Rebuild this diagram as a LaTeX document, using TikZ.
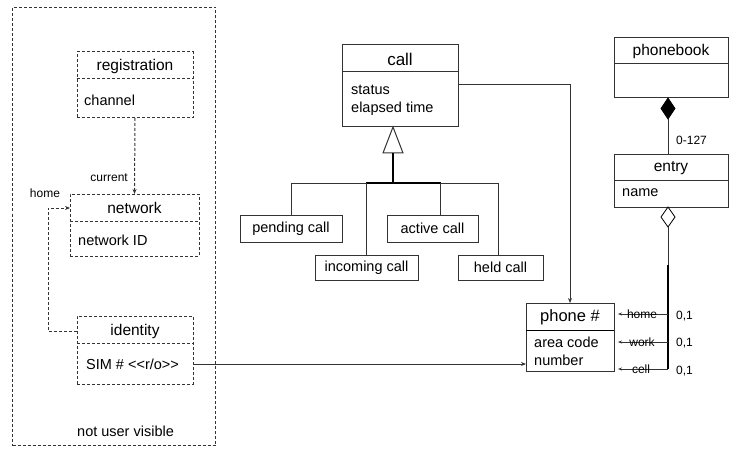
\documentclass[tikz,border=0pt]{standalone}
\usepackage{fontspec}
\setmainfont{Liberation Sans}
\usetikzlibrary{arrows.meta}
\tikzset{
  ln/.style={draw=black!80, line width=1pt},
  dsh/.style={dash pattern=on 3pt off 2pt},
  cbox/.style={ln, rectangle, inner sep=0pt, outer sep=0pt, anchor=north west},
  dbox/.style={cbox, dsh},
  ttl/.style={inner sep=0pt, font=\fontsize{15.5}{18}\selectfont},
  att/.style={inner sep=0pt, anchor=west, align=left, font=\fontsize{14.5}{18}\selectfont},
  sml/.style={inner sep=0pt, font=\fontsize{12}{14}\selectfont},
  arr/.style={ln, -{Stealth[length=5pt,width=4pt]}},
  tarr/.style={ln, -{Stealth[length=4pt,width=3pt]}},
}
\begin{document}
\begin{tikzpicture}[x=1pt,y=-1pt]
\useasboundingbox (0,0) rectangle (735,449);
% outer frame
\node[dbox, minimum width=203pt, minimum height=438pt] (frame) at (12.5,7.5) {};
\node[att] (nuv) at (77,431) {not user visible};
% registration
\node[dbox, minimum width=116pt, minimum height=66pt] (reg) at (77,52) {};
\draw[ln,dsh] (77,79) -- (193,79);
\node[ttl] (regt) at (135,66) {registration};
\node[att] (regc) at (84,100) {channel};
% network
\node[dbox, minimum width=129pt, minimum height=62pt] (net) at (70,194) {};
\draw[ln,dsh] (70,221) -- (199,221);
\node[ttl] (nett) at (134.5,208) {network};
\node[att] (netid) at (78,240) {network ID};
% identity
\node[dbox, minimum width=116pt, minimum height=68pt] (idn) at (77,316) {};
\draw[ln,dsh] (77,343) -- (193,343);
\node[ttl] (idnt) at (135,331) {identity};
\node[att] (sim) at (86,364) {SIM \# <{}<r/o>{}>};
% dashed connectors
\draw[arr,dsh] (reg.south) -- (net.north);
\node[sml, anchor=east] (cur) at (128,178) {current};
\coordinate (hc) at (48,331);
\draw[arr,dsh] (idn.west |- hc) -| (48,208) -- (net.west |- 0,208);
\node[sml] (home1) at (45,193) {home};
% call
\node[cbox, minimum width=116pt, minimum height=82pt] (call) at (342,45) {};
\draw[ln] (342,72) -- (458,72);
\node[inner sep=0pt, font=\fontsize{17}{20}\selectfont] (callt) at (400,59) {call};
\node[att] (callst) at (351,100) {status\\elapsed time};
% subclasses
\node[cbox, minimum width=102pt, minimum height=27pt] (pend) at (240,215) {};
\node[att, anchor=center] at (pend.center) {pending call};
\node[cbox, minimum width=91pt, minimum height=27pt] (act) at (387,215) {};
\node[att, anchor=center] at (act.center) {active call};
\node[cbox, minimum width=103pt, minimum height=25pt] (inc) at (315,255) {};
\node[att, anchor=center] at (inc.center) {incoming call};
\node[cbox, minimum width=85pt, minimum height=25pt] (held) at (458,255) {};
\node[att, anchor=center] at (held.center) {held call};
% generalization
\coordinate (tb) at (393,153);
\coordinate (bar) at (393,183);
\draw[ln, fill=white] (call.south -| 393,0) -- (403,153) -- (383,153) -- cycle;
\draw[draw=black, line width=1.6pt] (tb) -- (bar);
\draw[ln] (291,183) -- (498,183);
\draw[draw=black, line width=1.3pt] (366,183) -- (441,183);
\draw[ln] (pend.north -| 291,0) -- (291,183);
\draw[ln] (inc.north -| 366,0) -- (366,183);
\draw[ln] (act.north -| 440,0) -- (440,183);
\draw[ln] (held.north -| 498,0) -- (498,183);
% phone
\node[cbox, minimum width=88pt, minimum height=68pt] (ph) at (526,303) {};
\draw[draw=black, line width=1pt] (526,330) -- (614,330);
\node[inner sep=0pt, font=\fontsize{16.5}{19}\selectfont] (pht) at (570,317) {phone \#};
\node[att] (phc) at (534,351) {area code\\number};
\draw[arr] (call.east |- 0,85) -| (ph.north -| 570,0);
\coordinate (simr) at (193,364);
\draw[arr] (simr) -- (ph.west |- simr);
% phonebook
\node[cbox, minimum width=114pt, minimum height=60pt] (pb) at (614,38) {};
\draw[ln] (614,64) -- (728,64);
\node[ttl] (pbt) at (671,51) {phonebook};
\node[cbox, minimum width=114pt, minimum height=52pt] (ent) at (614,155) {};
\draw[ln] (614,180) -- (728,180);
\node[ttl] (entt) at (671,168) {entry};
\node[att] (entn) at (622,193) {name};
% composition
\draw[draw=black, fill=black, line width=0.8pt] (668,98) -- (675,108.5) -- (668,119) -- (661,108.5) -- cycle;
\draw[ln] (668,119) -- (ent.north -| 668,0);
\node[sml, anchor=west] (n127) at (676,140) {0-127};
% aggregation
\draw[draw=black, fill=white, line width=0.8pt] (668,207) -- (675,217) -- (668,227) -- (661,217) -- cycle;
\coordinate (agg) at (668,227);
\draw[ln] (agg) -- (668,369);
\draw[draw=black, line width=1.3pt] (668,265) -- (668,369);
\coordinate (ah) at (618,314);
\coordinate (aw) at (618,342);
\coordinate (ac) at (618,369);
\draw[tarr] (668,314) -- (ah);
\draw[tarr] (668,342) -- (aw);
\draw[tarr] (668,369) -- (ac);
\node[sml] (lh) at (642,314) {home};
\node[sml] (lw) at (642,342) {work};
\node[sml] (lc) at (641,369) {cell};
\node[sml, anchor=west] (o1) at (676,316) {0,1};
\node[sml, anchor=west] (o2) at (676,343) {0,1};
\node[sml, anchor=west] (o3) at (676,371) {0,1};
\end{tikzpicture}
\end{document}
